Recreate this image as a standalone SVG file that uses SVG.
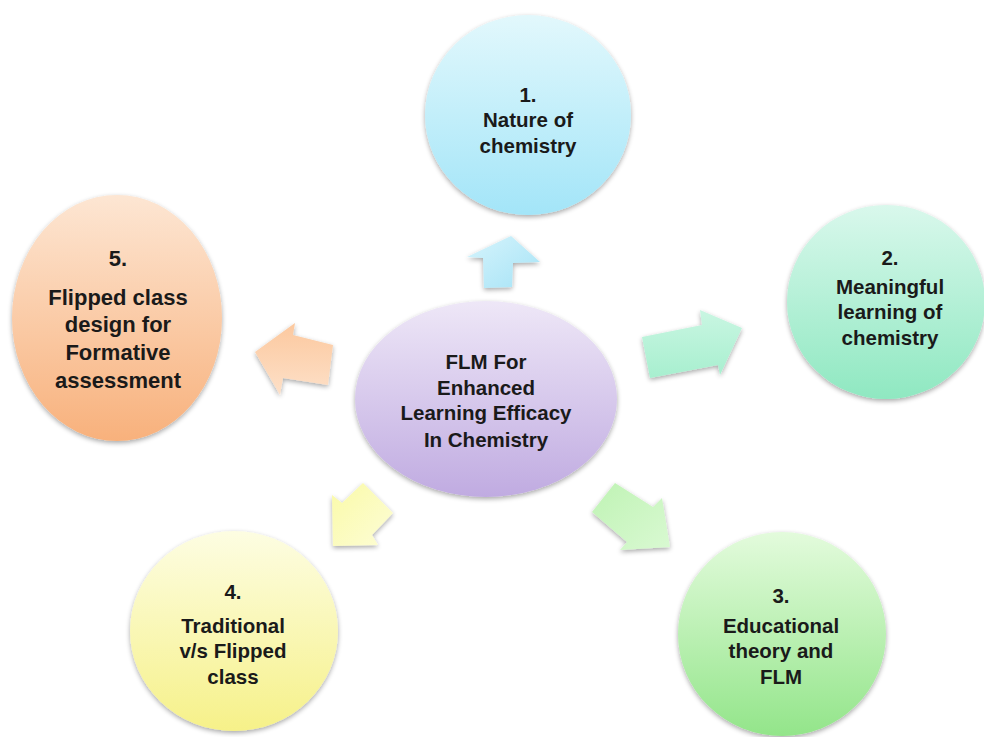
<svg xmlns="http://www.w3.org/2000/svg" width="984" height="737" viewBox="0 0 984 737">
  <defs>
    <filter id="shadow" x="-20%" y="-20%" width="140%" height="140%">
      <feGaussianBlur in="SourceAlpha" stdDeviation="2.5"/>
      <feOffset dx="0" dy="2" result="b"/>
      <feComponentTransfer><feFuncA type="linear" slope="0.35"/></feComponentTransfer>
      <feMerge><feMergeNode/><feMergeNode in="SourceGraphic"/></feMerge>
    </filter>
    <linearGradient id="gBlue" x1="0" y1="0" x2="0" y2="1">
      <stop offset="0" stop-color="#e2f8fc"/><stop offset="1" stop-color="#a3e5f8"/>
    </linearGradient>
    <linearGradient id="gTeal" x1="0" y1="0" x2="0" y2="1">
      <stop offset="0" stop-color="#d9f8ec"/><stop offset="1" stop-color="#8fe8c1"/>
    </linearGradient>
    <linearGradient id="gGreen" x1="0" y1="0" x2="0" y2="1">
      <stop offset="0" stop-color="#e3fbdc"/><stop offset="1" stop-color="#93e58a"/>
    </linearGradient>
    <linearGradient id="gYellow" x1="0" y1="0" x2="0" y2="1">
      <stop offset="0" stop-color="#fdfde2"/><stop offset="1" stop-color="#f6f189"/>
    </linearGradient>
    <linearGradient id="gOrange" x1="0" y1="0" x2="0" y2="1">
      <stop offset="0" stop-color="#fde6d3"/><stop offset="1" stop-color="#f8b17c"/>
    </linearGradient>
    <linearGradient id="gPurple" x1="0" y1="0" x2="0" y2="1">
      <stop offset="0" stop-color="#eee7f7"/><stop offset="1" stop-color="#c0abe1"/>
    </linearGradient>
    <linearGradient id="aBlue" x1="0" y1="0" x2="1" y2="1">
      <stop offset="0" stop-color="#d6f4fc"/><stop offset="1" stop-color="#a6e3f6"/>
    </linearGradient>
    <linearGradient id="aTeal" x1="0" y1="0" x2="0" y2="1">
      <stop offset="0" stop-color="#c9f6e2"/><stop offset="1" stop-color="#a7efcf"/>
    </linearGradient>
    <linearGradient id="aGreen" x1="0" y1="0" x2="1" y2="1">
      <stop offset="0" stop-color="#bff3b4"/><stop offset="1" stop-color="#d9f9d2"/>
    </linearGradient>
    <linearGradient id="aYellow" x1="0" y1="0" x2="1" y2="1">
      <stop offset="0" stop-color="#fafaa8"/><stop offset="1" stop-color="#fdfdd6"/>
    </linearGradient>
    <linearGradient id="aOrange" x1="0" y1="0" x2="0" y2="1">
      <stop offset="0" stop-color="#fcc89e"/><stop offset="1" stop-color="#fde0c8"/>
    </linearGradient>
  </defs>
  <style>
    .lbl { font-family: "Liberation Sans", Arial, sans-serif; font-weight: bold; font-size: 20.5px; fill: #1a1a1a; text-anchor: middle; }
    .big { font-size: 22px; }
    .node ellipse { filter: url(#shadow); }
    .conn polygon { filter: url(#shadow); }
  </style>

  <rect width="984" height="737" fill="#ffffff"/>

  <!-- block arrows radiating from the hub -->
  <g id="connectors" class="conn">
    <polygon id="arrow-1" fill="url(#aBlue)" points="511,236 540,262 513,263 512,287 484,288 483,258 467,257"/>
    <polygon id="arrow-2" fill="url(#aTeal)" points="642,337 702,325 700,310 742,328 720,375 718,365 650,378"/>
    <polygon id="arrow-3" fill="url(#aGreen)" points="615,483 653,507 662,498 670,547 620,550 627,542 592,512"/>
    <polygon id="arrow-4" fill="url(#aYellow)" points="333,546 332,495 342,503 363,483 393,513 372,535 378,545"/>
    <polygon id="arrow-5" fill="url(#aOrange)" points="255,352 295,323 293,335 333,345 328,385 283,378 280,395"/>
  </g>

  <g id="hub" class="node">
    <ellipse cx="486" cy="399" rx="131" ry="98" fill="url(#gPurple)"/>
    <text class="lbl" x="486" y="369">FLM For</text>
    <text class="lbl" x="486" y="395">Enhanced</text>
    <text class="lbl" x="486" y="420">Learning Efficacy</text>
    <text class="lbl" x="486" y="447">In Chemistry</text>
  </g>

  <g id="node-1" class="node">
    <ellipse cx="528" cy="115" rx="103" ry="100" fill="url(#gBlue)"/>
    <text class="lbl" x="528" y="102">1.</text>
    <text class="lbl" x="528" y="127">Nature of</text>
    <text class="lbl" x="528" y="153">chemistry</text>
  </g>

  <g id="node-2" class="node">
    <ellipse cx="886" cy="302" rx="99" ry="97" fill="url(#gTeal)"/>
    <text class="lbl" x="890" y="265">2.</text>
    <text class="lbl" x="890" y="294">Meaningful</text>
    <text class="lbl" x="890" y="319">learning of</text>
    <text class="lbl" x="890" y="345">chemistry</text>
  </g>

  <g id="node-3" class="node">
    <ellipse cx="782" cy="634" rx="104" ry="102" fill="url(#gGreen)"/>
    <text class="lbl" x="781" y="603">3.</text>
    <text class="lbl" x="781" y="633">Educational</text>
    <text class="lbl" x="781" y="658">theory and</text>
    <text class="lbl" x="781" y="684">FLM</text>
  </g>

  <g id="node-4" class="node">
    <ellipse cx="234" cy="631" rx="104" ry="100" fill="url(#gYellow)"/>
    <text class="lbl" x="233" y="599">4.</text>
    <text class="lbl" x="233" y="633">Traditional</text>
    <text class="lbl" x="233" y="658">v/s Flipped</text>
    <text class="lbl" x="233" y="684">class</text>
  </g>

  <g id="node-5" class="node">
    <ellipse cx="117" cy="318" rx="105" ry="123" fill="url(#gOrange)"/>
    <text class="lbl big" x="118" y="266">5.</text>
    <text class="lbl big" x="118" y="305">Flipped class</text>
    <text class="lbl big" x="118" y="332">design for</text>
    <text class="lbl big" x="118" y="360">Formative</text>
    <text class="lbl big" x="118" y="388">assessment</text>
  </g>
</svg>
